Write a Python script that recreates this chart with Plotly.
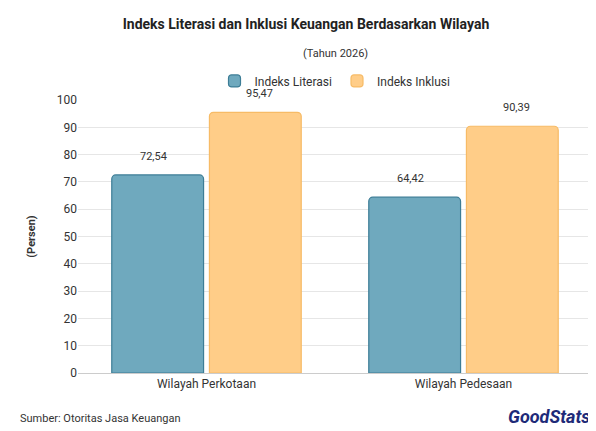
import plotly.graph_objects as go

wilayah = ["Wilayah Perkotaan", "Wilayah Pedesaan"]
literasi = [72.54, 64.42]
inklusi = [95.47, 90.39]

def fmt(v):
    return f"{v:.2f}".replace(".", ",")

fig = go.Figure()
fig.add_trace(go.Bar(x=wilayah, y=literasi, name="Indeks Literasi", offsetgroup="a",
                     marker=dict(color="#6fa9be", line=dict(color="#3d7d96", width=1.2), cornerradius=4)))
fig.add_trace(go.Bar(x=wilayah, y=inklusi, name="Indeks Inklusi", offsetgroup="b",
                     marker=dict(color="#ffcd88", line=dict(color="#f7bb66", width=1.2), cornerradius=4)))

# value labels sit a little above each bar
labels = []
for i, w in enumerate(wilayah):
    for vals, dx in ((literasi, -0.205), (inklusi, 0.205)):
        labels.append(dict(x=i + dx, y=vals[i], xref="x", yref="y", text=fmt(vals[i]),
                           showarrow=False, yanchor="bottom", yshift=10,
                           font=dict(size=11, color="#333")))

fig.update_layout(
    width=596, height=431,
    paper_bgcolor="white", plot_bgcolor="white",
    font=dict(family="Roboto, sans-serif", size=12, color="#333"),
    title=dict(text="<b>Indeks Literasi dan Inklusi Keuangan Berdasarkan Wilayah</b>",
               x=0.5, xanchor="center", y=0.975, yanchor="top", font=dict(size=14, color="#222")),
    margin=dict(l=70, r=12, t=92, b=66),
    barmode="group", bargap=0.24, bargroupgap=0.06,
    legend=dict(orientation="h", x=0.5, xanchor="center", y=1.07, yanchor="middle",
                font=dict(size=12)),
    yaxis=dict(range=[0, 100], dtick=10, gridcolor="#e6e6e6", zeroline=False,
               title=dict(text="<b>(Persen)</b>", font=dict(size=11), standoff=18),
               ticks="", tickfont=dict(size=12)),
    xaxis=dict(showline=True, linecolor="#ccc", tickfont=dict(size=12)),
    annotations=labels + [
        dict(text="(Tahun 2026)", x=0.5, y=1.2, xref="paper", yref="paper",
             showarrow=False, font=dict(size=11)),
        dict(text="Sumber: Otoritas Jasa Keuangan", x=-0.117, y=-0.165, xref="paper", yref="paper",
             xanchor="left", yanchor="middle", showarrow=False, font=dict(size=11)),
        dict(text="<b><i>GoodStats</i></b>", x=1.0, y=-0.16, xref="paper", yref="paper",
             xanchor="right", yanchor="middle", showarrow=False,
             font=dict(size=18, color="#1e2a78", family="Arial Black, Roboto")),
    ],
)
fig.write_html("out.html")
